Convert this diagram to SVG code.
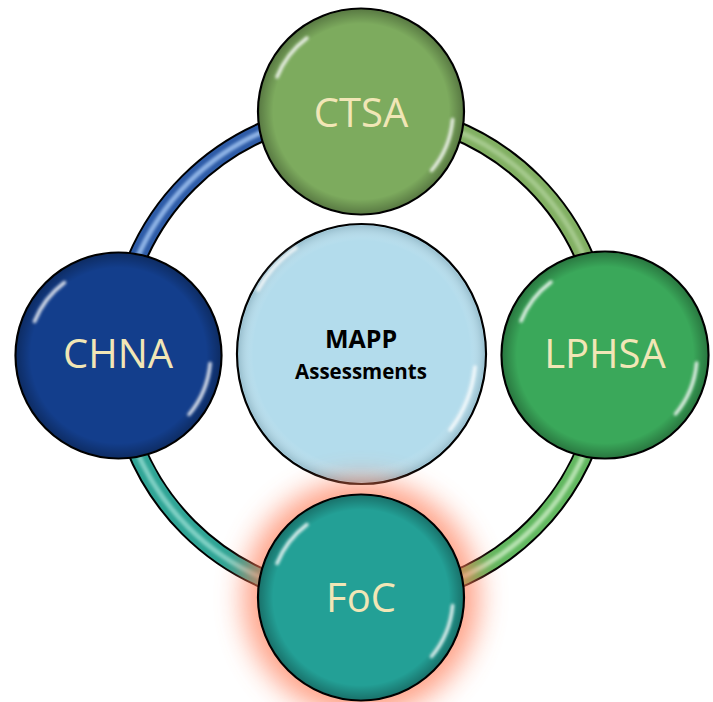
<svg xmlns="http://www.w3.org/2000/svg" width="713" height="702" viewBox="0 0 713 702">
<defs>
<style>
.edge{fill:none;stroke:#000;stroke-width:20}
.label{font-family:"Open Sans","Liberation Sans",sans-serif;font-size:40px;fill:#f1e6b6;text-anchor:middle}
.ctr{font-family:"Open Sans","Liberation Sans",sans-serif;font-weight:bold;fill:#000;text-anchor:middle}
.node{stroke:#000;stroke-width:2.2}
.hl{fill:none;stroke:#fff;stroke-width:3.5;stroke-linecap:round;opacity:.85;filter:url(#soft)}
</style>
<filter id="soft" x="-20%" y="-20%" width="140%" height="140%"><feGaussianBlur stdDeviation="1.5"/></filter>
<filter id="glow" x="-50%" y="-50%" width="200%" height="200%"><feGaussianBlur stdDeviation="14"/></filter>
<radialGradient id="rim" cx="0.5" cy="0.5" r="0.5">
<stop offset="0.86" stop-color="#000" stop-opacity="0"/>
<stop offset="1" stop-color="#000" stop-opacity="0.28"/>
</radialGradient>
<radialGradient id="rimc" cx="0.5" cy="0.5" r="0.5">
<stop offset="0.88" stop-color="#fff" stop-opacity="0"/>
<stop offset="1" stop-color="#6a8c9a" stop-opacity="0.35"/>
</radialGradient>
</defs>

<g id="connectors">
<path class="edge" d="M361 111 A244 244 0 0 0 117 355"/>
<path d="M361 111 A244 244 0 0 0 117 355" fill="none" stroke="#2e5ca8" stroke-width="16"/>
<path d="M361 111 A244 244 0 0 0 117 355" fill="none" stroke="#8fb4e6" stroke-width="5" filter="url(#soft)"/>
<path class="edge" d="M361 111 A244 244 0 0 1 605 355"/>
<path d="M361 111 A244 244 0 0 1 605 355" fill="none" stroke="#82b063" stroke-width="16"/>
<path d="M361 111 A244 244 0 0 1 605 355" fill="none" stroke="#a4c98c" stroke-width="5" filter="url(#soft)"/>
<path class="edge" d="M605 355 A244 244 0 0 1 361 599"/>
<path d="M605 355 A244 244 0 0 1 361 599" fill="none" stroke="#62b860" stroke-width="16"/>
<path d="M605 355 A244 244 0 0 1 361 599" fill="none" stroke="#b6e2b0" stroke-width="5" filter="url(#soft)"/>
<path class="edge" d="M117 355 A244 244 0 0 0 361 599"/>
<path d="M117 355 A244 244 0 0 0 361 599" fill="none" stroke="#30a596" stroke-width="16"/>
<path d="M117 355 A244 244 0 0 0 361 599" fill="none" stroke="#7fd0c4" stroke-width="5" filter="url(#soft)"/>
</g>

<g id="mapp">
<ellipse class="node" cx="361.5" cy="354" rx="124.5" ry="130" fill="#b3dcec"/>
<ellipse cx="361.5" cy="354" rx="123" ry="128.5" fill="url(#rimc)"/>
<path class="hl" d="M258 290 A115 121 0 0 1 296 248"/>
<path class="hl" d="M475 367 A115 121 0 0 1 450 430"/>
<text class="ctr" x="361" y="348" font-size="25">MAPP</text>
<text class="ctr" x="361" y="379" font-size="20.5">Assessments</text>
</g>

<g id="ctsa">
<circle class="node" cx="361" cy="111.5" r="103" fill="#7dab5e"/>
<circle cx="361" cy="111.5" r="102" fill="url(#rim)"/>
<path class="hl" d="M277 77 A91 91 0 0 1 307 38"/>
<path class="hl" d="M452.6 119.5 A92 92 0 0 1 431.5 170.5"/>
<text class="label" x="361" y="127">CTSA</text>
</g>

<g id="chna">
<circle class="node" cx="118.5" cy="355.5" r="103" fill="#133e8c"/>
<circle cx="118.5" cy="355.5" r="102" fill="url(#rim)"/>
<path class="hl" d="M34.5 321.5 A91 91 0 0 1 64.5 282.5"/>
<path class="hl" d="M210.1 363.5 A92 92 0 0 1 189 414.5"/>
<text class="label" x="118" y="368">CHNA</text>
</g>

<g id="lphsa">
<circle class="node" cx="605" cy="355" r="103.5" fill="#3aa85a"/>
<circle cx="605" cy="355" r="102.5" fill="url(#rim)"/>
<path class="hl" d="M521 321 A91 91 0 0 1 551 282"/>
<path class="hl" d="M696.6 363 A92 92 0 0 1 675.5 414"/>
<text class="label" x="605" y="368">LPHSA</text>
</g>

<g id="foc">
<circle cx="361" cy="598" r="118" fill="#ff7a55" opacity="0.7" filter="url(#glow)"/>
<circle class="node" cx="361" cy="597.5" r="103" fill="#23a096"/>
<circle cx="361" cy="597.5" r="102" fill="url(#rim)"/>
<path class="hl" d="M277 563.5 A91 91 0 0 1 307 524.5"/>
<path class="hl" d="M452.6 605.5 A92 92 0 0 1 431.5 656.5"/>
<text class="label" x="361" y="612">FoC</text>
</g>
</svg>
